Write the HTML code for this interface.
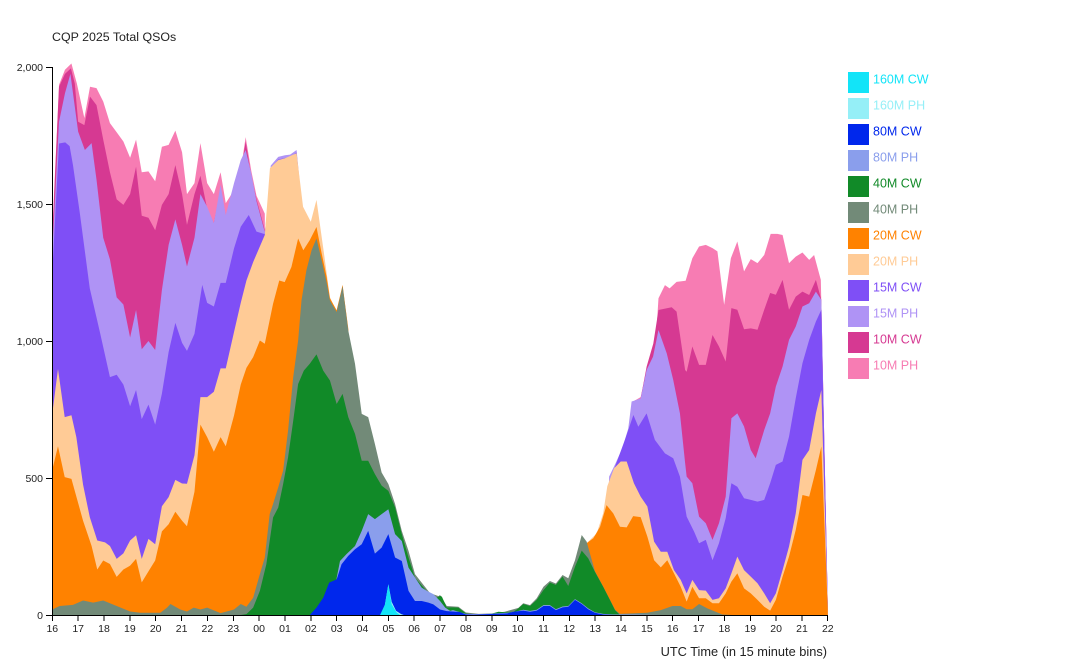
<!DOCTYPE html>
<html>
<head>
<meta charset="utf-8">
<style>
  html,body{margin:0;padding:0;background:#fff;}
  svg{display:block;}
  text{font-family:"Liberation Sans",sans-serif;}
</style>
</head>
<body>
<svg width="1067" height="667" viewBox="0 0 1067 667" xmlns="http://www.w3.org/2000/svg">
  <rect x="0" y="0" width="1067" height="667" fill="#fff"/>
  <text x="52" y="41" font-size="12.4" fill="#222">CQP 2025 Total QSOs</text>

  <g transform="translate(52.3,615) scale(25.85,-0.274)">
    <!-- 10M PH -->
    <polygon fill="#F77CB3" points="0,0 0,1400 0.26,1935 0.49,1990 0.74,2013 0.95,1940 1.24,1814 1.46,1928 1.71,1923 1.97,1874 2.23,1795 2.49,1762 2.75,1728 3.01,1669 3.24,1735 3.46,1616 3.72,1619 3.98,1583 4.24,1709 4.5,1716 4.76,1768 5.02,1689 5.21,1536 5.5,1576 5.73,1722 5.99,1576 6.25,1536 6.51,1616 6.71,1503 7.03,1550 7.29,1623 7.48,1744 7.7,1620 7.9,1530 8.22,1465 8.3,0 22.3,0 22.48,780 22.76,795 23.02,907 23.21,955 23.34,992 23.45,1156 23.7,1204 23.88,1192 24.15,1216 24.5,1220 24.76,1302 25.02,1345 25.28,1351 25.54,1339 25.73,1327 25.99,1132 26.25,1302 26.5,1363 26.76,1254 27.02,1299 27.28,1284 27.54,1314 27.79,1391 28.05,1391 28.25,1387 28.5,1284 28.76,1308 29.02,1323 29.28,1296 29.47,1314 29.73,1223 30,30 30,0"/>
    <!-- 10M CW -->
    <polygon fill="#D63992" points="0,0 0,1380 0.26,1928 0.49,1975 0.72,1995 0.87,1940 1.0,1800 1.24,1788 1.46,1892 1.71,1861 1.97,1735 2.23,1616 2.49,1517 2.75,1497 3.01,1536 3.24,1636 3.46,1457 3.72,1450 3.98,1404 4.24,1497 4.5,1536 4.76,1642 5.02,1536 5.21,1424 5.5,1536 5.73,1603 5.99,1483 6.25,1430 6.51,1556 6.71,1457 7.03,1543 7.29,1616 7.48,1728 7.7,1600 7.9,1518 8.22,1405 8.3,0 22.3,0 22.48,775 22.76,790 22.99,906 23.25,991 23.45,1113 23.96,1123 24.15,1107 24.48,894 24.54,888 24.76,980 25.02,913 25.28,913 25.54,1022 25.79,980 26.05,925 26.27,1120 26.5,1114 26.76,1043 27.02,1046 27.28,1041 27.54,1114 27.77,1175 27.99,1169 28.25,1223 28.5,1114 28.76,1162 29.02,1180 29.28,1168 29.54,1223 29.75,1150 30,28 30,0"/>
    <!-- 15M PH -->
    <polygon fill="#AF93F5" points="0,0 0,1330 0.26,1800 0.49,1904 0.7,1975 1.0,1764 1.26,1697 1.52,1722 1.71,1589 1.97,1377 2.23,1298 2.49,1159 2.75,1133 3.01,1013 3.24,1113 3.46,970 3.72,1000 3.98,967 4.24,1186 4.5,1351 4.76,1444 5.02,1351 5.21,1272 5.5,1377 5.73,1536 5.99,1490 6.25,1430 6.51,1570 6.71,1460 7.03,1576 7.29,1660 7.48,1697 7.7,1610 7.9,1510 8.22,1398 8.35,1505 8.45,1640 8.74,1672 9.0,1678 9.2,1680 9.45,1697 9.55,1600 9.7,1400 9.8,0 21.4,0 21.54,505 21.79,554 22.05,608 22.28,680 22.41,779 22.76,790 22.99,894 23.24,943 23.45,1040 23.77,955 24.02,858 24.28,736 24.48,555 24.54,505 24.76,481 25.02,359 25.28,335 25.54,274 25.79,335 26.05,432 26.27,718 26.5,736 26.76,688 27.02,602 27.21,572 27.54,675 27.77,736 27.99,834 28.25,907 28.5,1004 28.76,1053 29.02,1126 29.28,1138 29.54,1180 29.75,1150 30,27 30,0"/>
    <!-- 15M CW -->
    <polygon fill="#7F4FF6" points="0,0 0,1250 0.26,1721 0.5,1725 0.67,1711 0.8,1642 1.06,1470 1.45,1192 1.84,1033 2.23,868 2.49,877 2.75,841 3.01,762 3.24,821 3.46,715 3.72,768 3.98,695 4.24,808 4.5,960 4.76,1066 5.02,993 5.21,964 5.5,1026 5.8,1205 5.99,1139 6.25,1126 6.51,1212 6.71,1212 7.03,1338 7.29,1417 7.6,1460 7.9,1399 8.22,1390 8.35,1500 8.45,1630 8.74,1662 9.0,1668 9.2,1670 9.45,1688 9.55,1590 9.7,1400 9.8,0 21.4,0 21.54,480 21.77,541 22.15,639 22.48,730 22.67,687 22.99,736 23.31,639 23.7,590 24.02,572 24.28,505 24.54,359 24.83,304 25.02,262 25.28,274 25.54,200 25.79,262 26.05,353 26.27,481 26.5,468 26.76,426 27.02,420 27.28,414 27.54,420 27.77,481 27.99,548 28.25,560 28.5,651 28.76,791 29.02,919 29.28,1004 29.54,1071 29.75,1114 30,25 30,0"/>
    <!-- 20M PH -->
    <polygon fill="#FFCB96" points="0,0 0,735 0.22,898 0.48,722 0.74,729 0.93,649 1.19,476 1.45,357 1.74,272 2.04,265 2.23,252 2.49,205 2.75,225 3.01,272 3.24,291 3.46,205 3.72,278 3.98,258 4.24,397 4.5,430 4.76,493 5.02,480 5.21,479 5.5,583 5.73,795 5.99,795 6.25,815 6.51,900 6.71,900 7.03,1033 7.29,1139 7.51,1221 7.77,1288 8.22,1387 8.42,1631 8.74,1660 9.0,1667 9.45,1685 9.7,1490 10.0,1435 10.22,1515 10.5,1326 10.74,1160 11.0,1106 11.23,1200 11.45,1048 11.6,0 20.6,0 20.67,262 21.06,298 21.31,371 21.47,470 21.73,535 21.99,560 22.22,560 22.5,481 22.76,432 23.02,396 23.28,268 23.54,231 23.79,231 24.05,164 24.31,128 24.54,79 24.76,128 25.02,91 25.28,89 25.54,55 25.79,61 26.05,97 26.27,152 26.5,213 26.76,164 27.02,140 27.28,116 27.54,79 27.77,43 27.99,79 28.25,164 28.5,250 28.76,371 29.02,566 29.28,602 29.54,736 29.75,821 30,22 30,0"/>
    <!-- 20M CW -->
    <polygon fill="#FF8200" points="0,0 0,530 0.22,616 0.48,503 0.74,497 1.19,344 1.52,252 1.74,166 1.97,199 2.23,186 2.49,139 2.75,166 3.01,180 3.24,205 3.46,119 3.72,159 3.98,199 4.24,305 4.5,331 4.76,377 5.02,344 5.21,324 5.5,450 5.73,695 5.99,649 6.25,596 6.51,649 6.71,616 7.03,728 7.29,841 7.51,902 7.77,941 8.03,1002 8.22,990 8.54,1136 8.78,1221 8.99,1215 9.25,1270 9.51,1374 9.71,1331 9.96,1368 10.22,1416 10.42,1320 10.61,1235 10.74,1156 11.0,1112 11.23,1205 11.45,1043 11.6,0 20.5,0 20.67,262 20.93,280 21.19,322 21.44,401 21.70,371 21.96,322 22.22,320 22.47,361 22.76,357 23.02,286 23.28,200 23.54,174 23.79,200 24.05,152 24.31,103 24.54,49 24.76,103 25.02,61 25.28,61 25.54,43 25.79,43 26.05,79 26.27,122 26.5,152 26.76,97 27.02,79 27.28,55 27.54,30 27.77,16 27.99,55 28.25,140 28.5,213 28.76,310 29.02,438 29.28,432 29.54,529 29.75,615 30,20 30,0"/>
    <!-- 40M PH -->
    <polygon fill="#728A78" points="0,0 0,20 0.285,33 0.8,37 1.19,53 1.58,45 1.97,53 2.49,33 3.01,13 3.4,8 4.18,8 4.44,27 4.57,40 4.95,20 5.21,13 5.47,27 5.73,20 5.99,27 6.51,7 7.03,20 7.29,40 7.51,30 7.77,63 8.03,149 8.22,210 8.41,368 8.54,405 8.74,466 8.93,527 9.12,673 9.32,868 9.51,1002 9.64,1148 9.83,1258 10.03,1331 10.22,1374 10.42,1295 10.61,1215 10.74,1148 11.0,1106 11.23,1200 11.45,1038 11.71,917 11.97,734 12.22,722 12.48,624 12.74,520 13.0,478 13.26,405 13.52,307 13.78,234 14.03,149 14.29,118 14.61,80 14.94,69 15.0,73 15.26,33 15.71,30 16,9 16.5,4 17,6 17.5,12 18.03,26 18.22,43 18.48,36 18.74,61 19.0,103 19.25,124 19.48,115 19.74,146 19.96,134 20.22,200 20.48,292 20.67,268 20.99,160 21.31,104 21.57,56 21.77,19 21.96,4 23.02,8 23.54,18 23.99,33 24.31,33 24.54,21 24.76,21 25.02,40 25.34,24 25.66,12 25.92,2 26.3,0 30,0"/>
    <!-- 40M CW -->
    <polygon fill="#118A28" points="0,0 7.3,0 7.51,3 7.77,27 8.03,88 8.28,185 8.54,356 8.74,392 8.93,478 9.12,575 9.32,709 9.51,843 9.73,892 9.96,917 10.22,951 10.48,892 10.74,856 11.0,770 11.23,807 11.45,722 11.71,661 11.97,563 12.22,563 12.48,514 12.74,472 13.0,453 13.26,393 13.52,295 13.78,210 14.03,137 14.29,108 14.61,74 14.87,63 15.0,70 15.07,67 15.26,28 15.52,28 15.71,27 16.0,6 16.3,1 17,5 17.26,12 17.5,10 17.84,12 18.03,24 18.22,40 18.48,33 18.74,55 19.0,91 19.25,118 19.48,110 19.74,140 19.96,106 20.22,176 20.48,235 20.73,207 20.99,158 21.31,103 21.57,55 21.77,18 21.96,0 30,0"/>
    <!-- 80M PH -->
    <polygon fill="#8A9EEC" points="0,0 10.95,0 11.0,135 11.13,197 11.38,222 11.71,252 11.97,307 12.22,368 12.48,350 12.74,368 13.0,386 13.26,295 13.52,270 13.78,173 14.03,137 14.29,100 14.49,88 14.74,76 15.0,51 15.2,27 15.39,15 15.5,18 16,4 16.5,3 17,5 17.6,8 18,14 18.22,19 18.48,15 18.74,19 19.0,36 19.25,36 19.48,21 19.74,31 19.96,33 20.22,58 20.48,43 20.73,24 20.99,10 21.31,4 21.7,2 22.5,2 23,1 23.5,0 30,0"/>
    <!-- 80M CW -->
    <polygon fill="#0027EC" points="0,0 9.96,0 10.22,27 10.48,63 10.71,118 11.0,130 11.19,185 11.45,216 11.71,240 11.97,258 12.22,307 12.48,224 12.74,246 13.0,295 13.26,210 13.52,197 13.78,88 14.03,51 14.29,51 14.55,45 14.74,39 15.0,20 15.26,14 15.77,11 16.0,2 16.3,1 17.6,6 17.84,12 18.22,16 18.48,12 18.74,16 19.0,33 19.25,33 19.48,18 19.74,28 19.96,30 20.22,55 20.48,40 20.73,21 20.99,8 21.31,2 21.7,0 30,0"/>
    <!-- 160M PH -->
    <polygon fill="#95EFF7" points="0,0 12.8,0 13.0,112 13.13,48 13.3,15 13.5,3 13.6,0 30,0"/>
    <!-- 160M CW -->
    <polygon fill="#12E4F8" points="0,0 12.68,0 12.87,39 13.0,112 13.13,39 13.32,9 13.45,0 30,0"/>
  </g>

  <!-- Y axis -->
  <g stroke="#000" stroke-width="1" fill="none" shape-rendering="crispEdges">
    <path d="M46,67.5H52.5V615.5H46"/>
    <line x1="46" y1="478.5" x2="52" y2="478.5"/>
    <line x1="46" y1="341.5" x2="52" y2="341.5"/>
    <line x1="46" y1="204.5" x2="52" y2="204.5"/>
  </g>
  <g font-size="10.5" fill="#222" text-anchor="end">
    <text x="43" y="619">0</text>
    <text x="43" y="482">500</text>
    <text x="43" y="345">1,000</text>
    <text x="43" y="208">1,500</text>
    <text x="43" y="71">2,000</text>
  </g>

  <!-- X axis -->
  <g stroke="#000" stroke-width="1" fill="none" shape-rendering="crispEdges">
    <path d="M52.5,621V615.5H827.5V621"/>
    <line x1="78.2" y1="615" x2="78.2" y2="621"/>
    <line x1="104" y1="615" x2="104" y2="621"/>
    <line x1="129.9" y1="615" x2="129.9" y2="621"/>
    <line x1="155.7" y1="615" x2="155.7" y2="621"/>
    <line x1="181.6" y1="615" x2="181.6" y2="621"/>
    <line x1="207.4" y1="615" x2="207.4" y2="621"/>
    <line x1="233.3" y1="615" x2="233.3" y2="621"/>
    <line x1="259.1" y1="615" x2="259.1" y2="621"/>
    <line x1="285" y1="615" x2="285" y2="621"/>
    <line x1="310.8" y1="615" x2="310.8" y2="621"/>
    <line x1="336.7" y1="615" x2="336.7" y2="621"/>
    <line x1="362.5" y1="615" x2="362.5" y2="621"/>
    <line x1="388.4" y1="615" x2="388.4" y2="621"/>
    <line x1="414.2" y1="615" x2="414.2" y2="621"/>
    <line x1="440.1" y1="615" x2="440.1" y2="621"/>
    <line x1="465.9" y1="615" x2="465.9" y2="621"/>
    <line x1="491.8" y1="615" x2="491.8" y2="621"/>
    <line x1="517.6" y1="615" x2="517.6" y2="621"/>
    <line x1="543.5" y1="615" x2="543.5" y2="621"/>
    <line x1="569.3" y1="615" x2="569.3" y2="621"/>
    <line x1="595.2" y1="615" x2="595.2" y2="621"/>
    <line x1="621" y1="615" x2="621" y2="621"/>
    <line x1="646.9" y1="615" x2="646.9" y2="621"/>
    <line x1="672.7" y1="615" x2="672.7" y2="621"/>
    <line x1="698.6" y1="615" x2="698.6" y2="621"/>
    <line x1="724.4" y1="615" x2="724.4" y2="621"/>
    <line x1="750.3" y1="615" x2="750.3" y2="621"/>
    <line x1="776.1" y1="615" x2="776.1" y2="621"/>
    <line x1="802" y1="615" x2="802" y2="621"/>
  </g>
  <g font-size="10.5" fill="#222" text-anchor="middle">
    <text x="52.3" y="632">16</text>
    <text x="78.2" y="632">17</text>
    <text x="104" y="632">18</text>
    <text x="129.9" y="632">19</text>
    <text x="155.7" y="632">20</text>
    <text x="181.6" y="632">21</text>
    <text x="207.4" y="632">22</text>
    <text x="233.3" y="632">23</text>
    <text x="259.1" y="632">00</text>
    <text x="285" y="632">01</text>
    <text x="310.8" y="632">02</text>
    <text x="336.7" y="632">03</text>
    <text x="362.5" y="632">04</text>
    <text x="388.4" y="632">05</text>
    <text x="414.2" y="632">06</text>
    <text x="440.1" y="632">07</text>
    <text x="465.9" y="632">08</text>
    <text x="491.8" y="632">09</text>
    <text x="517.6" y="632">10</text>
    <text x="543.5" y="632">11</text>
    <text x="569.3" y="632">12</text>
    <text x="595.2" y="632">13</text>
    <text x="621" y="632">14</text>
    <text x="646.9" y="632">15</text>
    <text x="672.7" y="632">16</text>
    <text x="698.6" y="632">17</text>
    <text x="724.4" y="632">18</text>
    <text x="750.3" y="632">19</text>
    <text x="776.1" y="632">20</text>
    <text x="802" y="632">21</text>
    <text x="827.8" y="632">22</text>
  </g>
  <text x="827" y="656" font-size="12.8" fill="#222" text-anchor="end">UTC Time (in 15 minute bins)</text>

  <!-- Legend -->
  <g font-size="12.5">
    <rect x="848" y="72" width="21" height="21" fill="#12E4F8"/>
    <text x="873" y="83.5" fill="#12E4F8">160M CW</text>
    <rect x="848" y="98" width="21" height="21" fill="#95EFF7"/>
    <text x="873" y="109.5" fill="#95EFF7">160M PH</text>
    <rect x="848" y="124" width="21" height="21" fill="#0027EC"/>
    <text x="873" y="135.5" fill="#0027EC">80M CW</text>
    <rect x="848" y="150" width="21" height="21" fill="#8A9EEC"/>
    <text x="873" y="161.5" fill="#8A9EEC">80M PH</text>
    <rect x="848" y="176" width="21" height="21" fill="#118A28"/>
    <text x="873" y="187.5" fill="#118A28">40M CW</text>
    <rect x="848" y="202" width="21" height="21" fill="#728A78"/>
    <text x="873" y="213.5" fill="#728A78">40M PH</text>
    <rect x="848" y="228" width="21" height="21" fill="#FF8200"/>
    <text x="873" y="239.5" fill="#FF8200">20M CW</text>
    <rect x="848" y="254" width="21" height="21" fill="#FFCB96"/>
    <text x="873" y="265.5" fill="#FFCB96">20M PH</text>
    <rect x="848" y="280" width="21" height="21" fill="#7F4FF6"/>
    <text x="873" y="291.5" fill="#7F4FF6">15M CW</text>
    <rect x="848" y="306" width="21" height="21" fill="#AF93F5"/>
    <text x="873" y="317.5" fill="#AF93F5">15M PH</text>
    <rect x="848" y="332" width="21" height="21" fill="#D63992"/>
    <text x="873" y="343.5" fill="#D63992">10M CW</text>
    <rect x="848" y="358" width="21" height="21" fill="#F77CB3"/>
    <text x="873" y="369.5" fill="#F77CB3">10M PH</text>
  </g>
</svg>
</body>
</html>
